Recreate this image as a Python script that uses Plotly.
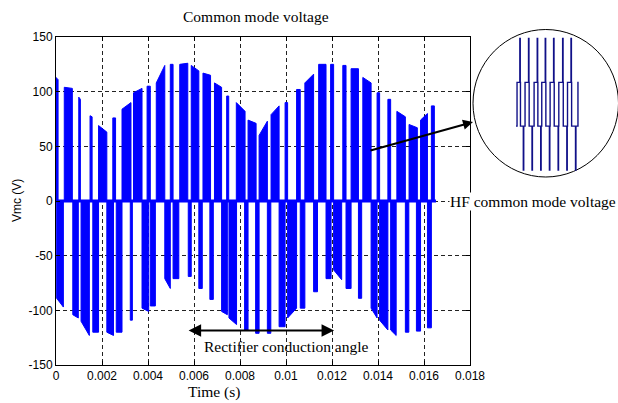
import plotly.graph_objects as go

# ---------------- data ----------------
# Positive switching bursts of the common mode voltage:
# start time (s), end time (s), envelope at start (V), envelope at end (V)
pos_t0 = [0.00000, 0.00036, 0.00099, 0.00148, 0.00185, 0.00247, 0.00287, 0.00337,
          0.00396, 0.00436, 0.00497, 0.00538, 0.00588, 0.00639, 0.00689, 0.00742,
          0.00784, 0.00835, 0.00883, 0.00935, 0.00996, 0.01046, 0.01082, 0.01142,
          0.01194, 0.01247, 0.01283, 0.01334, 0.01396, 0.01443, 0.01482, 0.01535,
          0.01585, 0.01632]
pos_t1 = [0.00009, 0.00071, 0.00106, 0.00157, 0.00221, 0.00259, 0.00326, 0.00374,
          0.00410, 0.00473, 0.00509, 0.00573, 0.00621, 0.00672, 0.00720, 0.00751,
          0.00822, 0.00870, 0.00919, 0.00970, 0.01007, 0.01062, 0.01120, 0.01174,
          0.01207, 0.01261, 0.01315, 0.01370, 0.01407, 0.01455, 0.01519, 0.01571,
          0.01615, 0.01645]
pos_v0 = [113, 104, 95, 78, 69, 76, 84, 99, 105, 108, 125, 125, 124, 117, 108, 96,
          90, 74, 60, 79, 90, 102, 108, 125, 125, 124, 121, 113, 99, 93, 82, 70, 74, 87]
pos_v1 = [111, 103, 93, 77, 63, 76, 90, 103, 105, 124, 125, 126, 119, 115, 104, 96,
          82, 71, 73, 87, 90, 102, 116, 125, 125, 124, 121, 108, 99, 93, 77, 67, 80, 87]

# Negative switching bursts
neg_t0 = [0.00003, 0.00073, 0.00109, 0.00160, 0.00221, 0.00262, 0.00323, 0.00374,
          0.00410, 0.00473, 0.00509, 0.00575, 0.00621, 0.00669, 0.00720, 0.00752,
          0.00820, 0.00868, 0.00919, 0.00970, 0.01007, 0.01062, 0.01120, 0.01174,
          0.01207, 0.01261, 0.01315, 0.01370, 0.01407, 0.01455, 0.01519, 0.01567,
          0.01615]
neg_t1 = [0.00032, 0.00097, 0.00145, 0.00185, 0.00250, 0.00287, 0.00332, 0.00403,
          0.00432, 0.00497, 0.00534, 0.00588, 0.00636, 0.00684, 0.00745, 0.00785,
          0.00835, 0.00883, 0.00934, 0.00996, 0.01046, 0.01082, 0.01137, 0.01196,
          0.01242, 0.01283, 0.01329, 0.01396, 0.01443, 0.01479, 0.01534, 0.01585,
          0.01632]
neg_v0 = [-89, -104, -110, -120, -120, -120, -109, -98, -96, -71, -71, -69, -80, -90,
          -101, -107, -118, -121, -121, -115, -107, -98, -83, -71, -63, -80, -89, -98,
          -109, -118, -120, -119, -116]
neg_v1 = [-97, -107, -123, -120, -123, -120, -109, -101, -96, -80, -71, -69, -80, -90,
          -104, -113, -118, -121, -121, -115, -98, -98, -83, -71, -72, -80, -89, -107,
          -118, -123, -120, -119, -116]

t_end = 0.01652  # last simulated instant (s)

# HF detail: switching instants (us) and common-mode level after each instant
hf_t = [-3, 0, 8, 9.2, 9.8, 18, 19.2,
        23, 33, 34.2, 34.8, 43, 44.2,
        49, 58, 59.2, 59.8, 68, 69.2,
        71, 81, 82.2, 82.8, 93, 94.2,
        95, 105, 106.2, 106.8, 118, 119.2,
        120, 131, 132.2, 132.8, 143, 144.2,
        145, 155, 156.2, 156.8, 168, 169.2, 175, 177]
hf_v = [-1, 1, 3, 1, -1, -3, -1,
        1, 3, 1, -1, -3, -1,
        1, 3, 1, -1, -3, -1,
        1, 3, 1, -1, -3, -1,
        1, 3, 1, -1, -3, -1,
        1, 3, 1, -1, -3, -1,
        1, 3, 1, -1, -3, -1, 1, 1]

x_ticks = [0, 0.002, 0.004, 0.006, 0.008, 0.010, 0.012, 0.014, 0.016, 0.018]
x_ticktext = ["0", "0.002", "0.004", "0.006", "0.008", "0.01", "0.012", "0.014",
              "0.016", "0.018"]
y_ticks = [-150, -100, -50, 0, 50, 100, 150]
y_ticktext = ["-150", "-100", "-50", "0", "50", "100", "150"]

# ---------------- layout geometry (pixels) ----------------
W, H = 618, 403
L, R, T, B = 56, 470, 37, 365

def px(x):
    return x / W

def py(y):
    return (H - y) / H

# ---------------- burst polygons ----------------
def bursts(t0, t1, v0, v1):
    xs, ys = [], []
    for a, b, va, vb in zip(t0, t1, v0, v1):
        xs += [a, a, b, b, a, None]
        ys += [0, va, vb, 0, 0, None]
    return xs, ys

px_pos, py_pos = bursts(pos_t0, pos_t1, pos_v0, pos_v1)
px_neg, py_neg = bursts(neg_t0, neg_t1, neg_v0, neg_v1)

blue = "#0000FF"
fig = go.Figure()
for xs, ys in [(px_pos, py_pos), (px_neg, py_neg)]:
    fig.add_trace(go.Scatter(x=xs, y=ys, mode="lines", fill="toself",
                             fillcolor=blue, line=dict(color=blue, width=1),
                             hoverinfo="skip", showlegend=False))
fig.add_trace(go.Scatter(x=[0, t_end], y=[0, 0], mode="lines",
                         line=dict(color=blue, width=3), showlegend=False))

# HF detail trace inside the magnifier circle
fig.add_trace(go.Scatter(x=hf_t, y=hf_v, mode="lines", line_shape="hv",
                         line=dict(color="#101088", width=1.4),
                         xaxis="x2", yaxis="y2", showlegend=False))

grid = dict(showgrid=True, gridcolor="#222222", gridwidth=1, griddash="4px,3px",
            showline=True, linecolor="black", linewidth=1, mirror="ticks",
            ticks="inside", ticklen=4, tickcolor="black", zeroline=False,
            automargin=False,
            tickfont=dict(family="Liberation Sans, Arial", size=12, color="black"))

fig.update_layout(
    template="none",
    width=W, height=H, autosize=False,
    margin=dict(l=0, r=0, t=0, b=0, pad=0, autoexpand=False),
    paper_bgcolor="white", plot_bgcolor="white",
    xaxis=dict(domain=[px(L), px(R)], range=[0, 0.018], tickvals=x_ticks,
               ticktext=x_ticktext, anchor="y", **grid),
    yaxis=dict(domain=[py(B), py(T)], range=[-150, 150], tickvals=y_ticks,
               ticktext=y_ticktext, anchor="x", **grid),
    xaxis2=dict(domain=[px(516), px(579)], range=[-3, 178], visible=False,
                anchor="y2", automargin=False),
    yaxis2=dict(domain=[py(173.3), py(35.2)], range=[-3.15, 3.15], visible=False,
                anchor="x2", automargin=False),
    shapes=[dict(type="circle", xref="paper", yref="paper",
                 x0=px(473), x1=px(618.5), y0=py(177), y1=py(29.5),
                 line=dict(color="black", width=1), layer="below")],
)

serif = "Liberation Serif, Times New Roman"
mid = dict(xanchor="center", yanchor="middle", showarrow=False)
ann = [
    dict(text="Common mode voltage", xref="paper", yref="paper",
         x=px(256), y=py(17), font=dict(family=serif, size=15.5, color="black"),
         **mid),
    dict(text="Time (s)", xref="paper", yref="paper", x=px(214), y=py(392),
         font=dict(family=serif, size=15.5, color="black"), **mid),
    dict(text="Vmc (V)", xref="paper", yref="paper", x=px(17), y=py(201),
         textangle=-90,
         font=dict(family="Liberation Sans, Arial", size=12, color="black"), **mid),
    dict(text="HF common mode voltage", xref="paper", yref="y", x=px(449), y=0,
         xanchor="left", yanchor="middle", showarrow=False, bgcolor="white",
         borderpad=0, font=dict(family=serif, size=15.5, color="black")),
    # arrow from the HF region to the magnifier
    dict(text="", xref="paper", yref="paper", x=px(473), y=py(122),
         ax=369 - 473, ay=151 - 122, showarrow=True, arrowhead=2, arrowsize=1,
         arrowwidth=2, arrowcolor="black"),
    # rectifier conduction angle span
    dict(text="", x=0.01209, y=-118.5, xref="x", yref="y",
         ax=0.0057, ay=-118.5, axref="x", ayref="y", showarrow=True,
         arrowside="end+start", arrowhead=2, startarrowhead=2, arrowsize=1.25,
         startarrowsize=1.25, arrowwidth=2, arrowcolor="black"),
    dict(text="Rectifier conduction angle", x=0.0100, y=-133, xref="x", yref="y",
         font=dict(family=serif, size=15.5, color="black"), **mid),
]
fig.update_layout(annotations=ann)

fig.write_html("out.html")
